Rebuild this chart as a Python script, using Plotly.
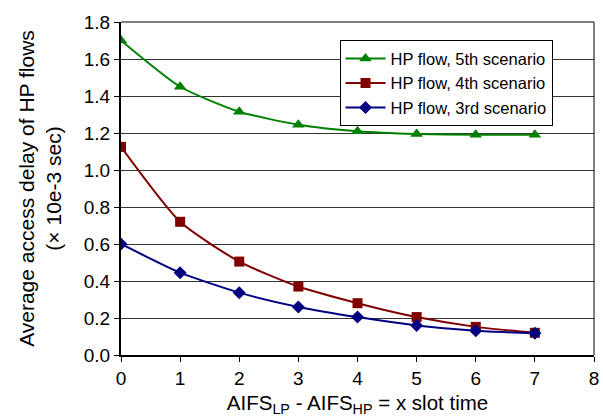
import plotly.graph_objects as go

x_vals = [0, 1, 2, 3, 4, 5, 6, 7]
hp5 = [1.70, 1.45, 1.315, 1.245, 1.21, 1.195, 1.19, 1.19]
hp4 = [1.125, 0.72, 0.505, 0.37, 0.28, 0.205, 0.152, 0.12]
hp3 = [0.60, 0.445, 0.337, 0.26, 0.205, 0.16, 0.131, 0.117]
names = ["HP flow, 5th scenario", "HP flow, 4th scenario", "HP flow, 3rd scenario"]
colors = ["#008000", "#800000", "#000080"]
symbols = ["triangle-up", "square", "diamond"]
sizes = [11, 10, 10]

fig = go.Figure()
for ys, nm, c, s, sz in zip([hp5, hp4, hp3], names, colors, symbols, sizes):
    fig.add_trace(go.Scatter(
        x=x_vals, y=ys, name=nm, mode="lines+markers",
        line=dict(color=c, width=2, shape="spline", smoothing=0.6),
        marker=dict(symbol=s, size=sz, color=c),
    ))

font = "Liberation Sans, Arial, sans-serif"
fig.update_layout(
    width=603, height=420,
    margin=dict(l=121, r=4, t=22, b=65),
    paper_bgcolor="white", plot_bgcolor="white",
    font=dict(family=font, size=19, color="black"),
    showlegend=True,
    legend=dict(x=0.462, y=0.945, xanchor="left", yanchor="top",
                bgcolor="white", bordercolor="black", borderwidth=1,
                font=dict(size=16.5), tracegroupgap=0, itemwidth=40),
    xaxis=dict(range=[0, 8], dtick=1, tick0=0,
               showline=True, linecolor="black", linewidth=2, mirror=False,
               ticks="outside", ticklen=5, tickcolor="black",
               ticklabeloverflow="allow",
               showgrid=False, zeroline=False,
               title=dict(text="AIFS<sub>LP</sub> - AIFS<sub>HP</sub> = x slot time",
                          font=dict(size=20.5), standoff=8)),
    yaxis=dict(range=[0, 1.8], dtick=0.2, tick0=0, tickformat=".1f",
               showline=True, linecolor="black", linewidth=2,
               ticks="outside", ticklen=5, tickcolor="black",
               showgrid=True, gridcolor="#333333", gridwidth=1, zeroline=False,
               title=dict(text="Average access delay of HP flows<br>(× 10e-3 sec)",
                          font=dict(size=21), standoff=16)),
)
# right and top frame lines
fig.add_shape(type="line", xref="paper", yref="paper", x0=1, x1=1, y0=0, y1=1,
              line=dict(color="black", width=1))
fig.add_shape(type="line", xref="paper", yref="paper", x0=0, x1=1, y0=1, y1=1,
              line=dict(color="black", width=1))

fig.write_html("out.html", config={"displayModeBar": False},
               post_script="document.body.style.margin='0';document.body.style.padding='0';")
